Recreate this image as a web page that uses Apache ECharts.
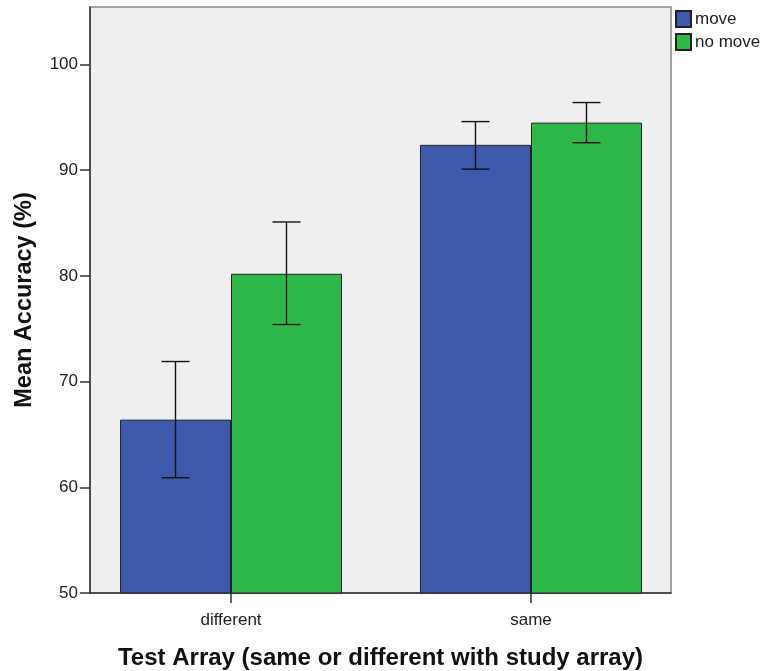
<!DOCTYPE html>
<html>
<head>
<meta charset="utf-8">
<script src="https://cdn.jsdelivr.net/npm/echarts@6/dist/echarts.min.js"></script>
<style>html,body{margin:0;padding:0;background:#fff}#c{width:765px;height:671px}</style>
</head>
<body>
<div id="c"></div>
<script>
var categories = ['different', 'same'];
var seriesNames = ['move', 'no move'];
var moveMean = [66.4, 92.4];
var moveLow = [60.9, 90.1];
var moveHigh = [71.9, 94.6];
var noMoveMean = [80.2, 94.5];
var noMoveLow = [75.4, 92.6];
var noMoveHigh = [85.1, 96.4];
var yTicks = [50, 60, 70, 80, 90, 100];

var BAR_W = 111;
var colors = ['#3e58ac', '#2fb84a'];

function barData(means) {
  return means.map(function (v, i) { return [i, v]; });
}
function errData(low, high, side) {
  return low.map(function (v, i) { return [i, v, high[i], side]; });
}
function renderErr(params, api) {
  var x = api.value(0);
  var side = api.value(3);
  var lo = api.coord([x, api.value(1)]);
  var hi = api.coord([x, api.value(2)]);
  var cx = lo[0] + side * BAR_W / 2;
  var cap = 14;
  var st = { stroke: '#111', lineWidth: 1.4 };
  return {
    type: 'group',
    children: [
      { type: 'line', shape: { x1: cx, y1: lo[1], x2: cx, y2: hi[1] }, style: st },
      { type: 'line', shape: { x1: cx - cap, y1: lo[1], x2: cx + cap, y2: lo[1] }, style: st },
      { type: 'line', shape: { x1: cx - cap, y1: hi[1], x2: cx + cap, y2: hi[1] }, style: st }
    ]
  };
}

var chart = echarts.init(document.getElementById('c'));
chart.setOption({
  animation: false,
  backgroundColor: '#ffffff',
  textStyle: { fontFamily: 'Liberation Sans, Arial, sans-serif' },
  grid: { left: 90, right: 94, top: 7, bottom: 78, outerBoundsMode: 'none', containLabel: false,
    show: true, backgroundColor: '#efefef', borderColor: '#8a8a8a', borderWidth: 1.5 },
  legend: {
    left: 675, top: 10, orient: 'vertical', itemWidth: 15, itemHeight: 16, itemGap: 5, padding: 0,
    icon: 'rect',
    textStyle: { fontSize: 17, color: '#222', padding: [0, 0, 0, -1] },
    data: seriesNames
  },
  xAxis: {
    type: 'value', min: -0.47, max: 1.4667,
    splitLine: { show: false },
    axisLine: { show: true, onZero: false, lineStyle: { color: '#333', width: 1.5 } },
    axisTick: { show: true, length: 10, customValues: [0, 1], lineStyle: { color: '#333', width: 1.5 } },
    axisLabel: { customValues: [0, 1], color: '#222', fontSize: 17, margin: 19,
      formatter: function (v) { return categories[Math.round(v)]; } },
    name: 'Test Array (same or different with study array)',
    nameLocation: 'middle', nameGap: 53,
    nameTextStyle: { fontFamily: 'Liberation Sans', fontWeight: 'bold', fontSize: 24, color: '#111' }
  },
  yAxis: {
    type: 'value', min: 50, max: 105.44,
    splitLine: { show: false },
    axisLine: { show: true, onZero: false, lineStyle: { color: '#333', width: 1.5 } },
    axisTick: { show: true, length: 10, customValues: yTicks, lineStyle: { color: '#333', width: 1.5 } },
    axisLabel: { customValues: yTicks, color: '#222', fontSize: 17, margin: 12 },
    name: 'Mean Accuracy (%)',
    nameLocation: 'middle', nameGap: 53,
    nameTextStyle: { fontFamily: 'Liberation Sans', fontWeight: 'bold', fontSize: 23.5, color: '#111' }
  },
  series: [
    { name: 'move', type: 'bar', data: barData(moveMean), barWidth: BAR_W, barGap: '0%',
      itemStyle: { color: colors[0], borderColor: '#222', borderWidth: 1 } },
    { name: 'no move', type: 'bar', data: barData(noMoveMean), barWidth: BAR_W, barGap: '0%',
      itemStyle: { color: colors[1], borderColor: '#222', borderWidth: 1 } },
    { type: 'custom', renderItem: renderErr, data: errData(moveLow, moveHigh, -1), z: 10, silent: true },
    { type: 'custom', renderItem: renderErr, data: errData(noMoveLow, noMoveHigh, 1), z: 10, silent: true }
  ]
});
</script>
</body>
</html>
